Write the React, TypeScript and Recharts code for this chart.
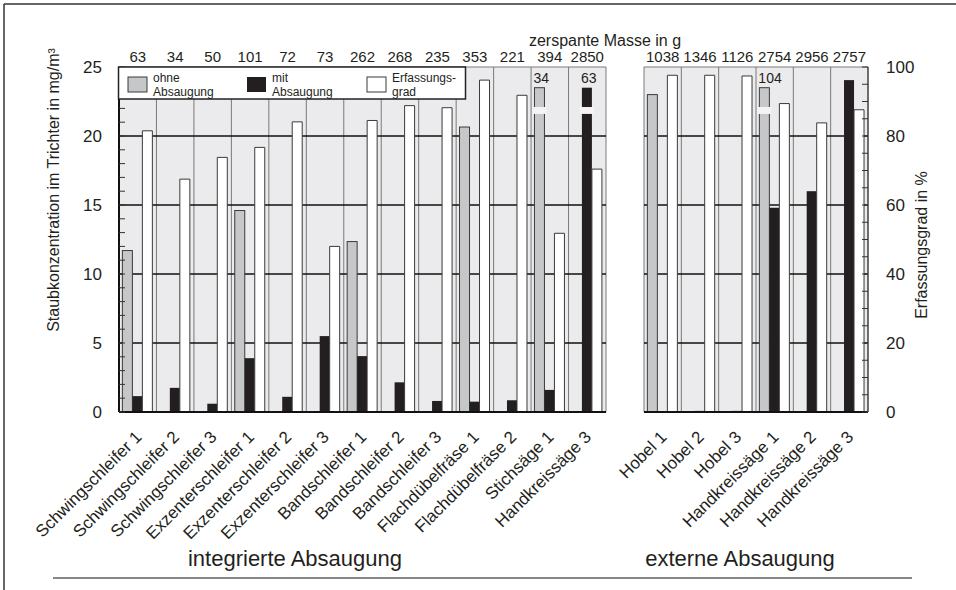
import React from 'react';
import { BarChart, Bar, XAxis, YAxis, CartesianGrid } from 'recharts';

const FONT = '"Liberation Sans", Arial, Helvetica, sans-serif';

// ---------- data ----------
const leftCategories = [
  'Schwingschleifer 1', 'Schwingschleifer 2', 'Schwingschleifer 3',
  'Exzenterschleifer 1', 'Exzenterschleifer 2', 'Exzenterschleifer 3',
  'Bandschleifer 1', 'Bandschleifer 2', 'Bandschleifer 3',
  'Flachdübelfräse 1', 'Flachdübelfräse 2', 'Stichsäge 1', 'Handkreissäge 3',
];
const leftMasse = [63, 34, 50, 101, 72, 73, 262, 268, 235, 353, 221, 394, 2850];
const leftOhne = [11.7, 0, 0, 14.6, 0, 0, 12.35, 0, 0, 20.65, 0, 34, 0];
const leftMit = [1.15, 1.75, 0.6, 3.9, 1.1, 5.5, 4.05, 2.15, 0.8, 0.75, 0.85, 1.6, 63];
const leftErf = [81.5, 67.5, 73.8, 76.7, 84.1, 48, 84.5, 88.8, 88.2, 96.2, 91.8, 51.8, 70.4];

const rightCategories = ['Hobel 1', 'Hobel 2', 'Hobel 3', 'Handkreissäge 1', 'Handkreissäge 2', 'Handkreissäge 3'];
const rightMasse = [1038, 1346, 1126, 2754, 2956, 2757];
const rightOhne = [23, 0, 0, 104, 0, 0];
const rightMit = [0, 0.08, 0.08, 14.8, 16, 24.05];
const rightErf = [97.6, 97.6, 97.4, 89.4, 83.8, 87.6];

const concTicks = [0, 1, 2, 3, 4, 5, 6, 7, 8, 9, 10, 11, 12, 13, 14, 15, 16, 17, 18, 19, 20, 21, 22, 23, 24, 25];
const pctTicks = [0, 5, 10, 15, 20, 25, 30, 35, 40, 45, 50, 55, 60, 65, 70, 75, 80, 85, 90, 95, 100];
const gridValues = [5, 10, 15, 20];

const Y_MAX = 25;
const CAP = 23.5; // displayed height of off-scale bars
const BREAK_HI = 22.1;
const BREAK_LO = 21.6;

const buildRows = (cats: string[], masse: number[], ohne: number[], mit: number[], erf: number[]) =>
  cats.map((name, i) => ({
    name,
    masse: masse[i],
    ohne: ohne[i],
    mit: mit[i],
    erf: erf[i],
    ohneDisp: ohne[i] > Y_MAX ? CAP : ohne[i],
    mitDisp: mit[i] > Y_MAX ? CAP : mit[i],
  }));

const leftRows = buildRows(leftCategories, leftMasse, leftOhne, leftMit, leftErf);
const rightRows = buildRows(rightCategories, rightMasse, rightOhne, rightMit, rightErf);

// ---------- colors ----------
const PLOT_BG = '#ebebed';
const GRAY = '#c6c7c9';
const BLACK = '#231f20';
const TXT = '#231f20';

// ---------- custom pieces ----------
const makeBreakBar = (key: 'ohne' | 'mit', fill: string, stroke: string) => (props: any) => {
  const { x, y, width, height, payload } = props;
  if (!height || height <= 0.2) {
    if (height > 0) return <rect x={x} y={y} width={width} height={height} fill={fill} />;
    return null;
  }
  const actual = payload[key];
  const broken = actual > Y_MAX;
  const ppu = height / (broken ? CAP : actual);
  const gTop = y + (CAP - BREAK_HI) * ppu;
  const gBot = y + (CAP - BREAK_LO) * ppu;
  return (
    <g>
      <rect x={x} y={y} width={width} height={height} fill={fill} stroke={stroke} strokeWidth={stroke === 'none' ? 0 : 1} />
      {broken && (
        <>
          <rect x={x - 2} y={gTop} width={width + 4} height={gBot - gTop} fill="#f4f4f4" />
          <text x={x - 1} y={y - 5} fontSize={14} fontFamily={FONT} fill={TXT} textAnchor="start">
            {actual}
          </text>
        </>
      )}
    </g>
  );
};

const OhneBar = makeBreakBar('ohne', GRAY, '#3a3a3a');
const MitBar = makeBreakBar('mit', BLACK, 'none');

const BottomTick = (props: any) => {
  const { x, y, payload } = props;
  const ax = x + 5;
  const ay = y + 26;
  return (
    <text x={ax} y={ay} transform={`rotate(-45 ${ax} ${ay})`} textAnchor="end" fontSize={17} fontFamily={FONT} fill={TXT}>
      {payload.value}
    </text>
  );
};

const TopTick = (props: any) => {
  const { x, y, payload } = props;
  return (
    <text x={x} y={y - 5} textAnchor="middle" fontSize={15} fontFamily={FONT} fill={TXT}>
      {payload.value}
    </text>
  );
};

const ConcTick = (props: any) => {
  const { x, y, payload } = props;
  return (
    <g>
      <line x1={x} x2={x + 6} y1={y} y2={y} stroke="#333" strokeWidth={1} />
      {payload.value % 5 === 0 && (
        <text x={x - 17} y={y + 6} textAnchor="end" fontSize={17} fontFamily={FONT} fill={TXT}>
          {payload.value}
        </text>
      )}
    </g>
  );
};

const PctTick = (props: any) => {
  const { x, y, payload } = props;
  return (
    <g>
      <line x1={x - 6} x2={x} y1={y} y2={y} stroke="#333" strokeWidth={1} />
      {payload.value % 20 === 0 && (
        <text x={x + 18} y={y + 6} textAnchor="start" fontSize={17} fontFamily={FONT} fill={TXT}>
          {payload.value}
        </text>
      )}
    </g>
  );
};

const vGen = (n: number) => ({ offset }: any) => {
  const pts: number[] = [];
  for (let i = 0; i <= n; i++) pts.push(offset.left + (offset.width * i) / n);
  return pts;
};

const hGen = (values: number[]) => ({ yAxis, offset }: any) =>
  values.map((v) =>
    yAxis && typeof yAxis.scale === 'function'
      ? yAxis.scale(v)
      : offset.top + offset.height * (1 - v / Y_MAX)
  );

const Panel = ({ rows, margin, showLeft, showRight }: any) => (
  <BarChart
    width={956}
    height={590}
    data={rows}
    margin={margin}
    barCategoryGap="9%"
    barGap={0}
  >
    <CartesianGrid
      fill={PLOT_BG}
      stroke="#7a7a7a"
      strokeWidth={1}
      verticalCoordinatesGenerator={vGen(rows.length)}
      horizontalCoordinatesGenerator={hGen([25])}
    />
    <CartesianGrid
      vertical={false}
      stroke="#111"
      strokeWidth={1.6}
      horizontalCoordinatesGenerator={hGen(gridValues)}
    />
    <XAxis
      dataKey="name"
      height={178}
      interval={0}
      tickLine={false}
      tickSize={0}
      tickMargin={0}
      axisLine={{ stroke: '#111', strokeWidth: 2 }}
      tick={<BottomTick />}
    />
    <XAxis
      xAxisId="top"
      orientation="top"
      dataKey="masse"
      height={30}
      interval={0}
      tickLine={false}
      axisLine={false}
      tickSize={0}
      tickMargin={0}
      tick={<TopTick />}
    />
    <YAxis
      domain={[0, Y_MAX]}
      ticks={concTicks}
      interval={0}
      allowDataOverflow
      hide={!showLeft}
      width={119}
      tickLine={false}
      tickSize={0}
      tickMargin={0}
      axisLine={{ stroke: '#111', strokeWidth: 2 }}
      tick={<ConcTick />}
    />
    <YAxis
      yAxisId="pct"
      orientation="right"
      domain={[0, 100]}
      ticks={pctTicks}
      interval={0}
      hide={!showRight}
      width={88}
      tickLine={false}
      tickSize={0}
      tickMargin={0}
      axisLine={{ stroke: '#555', strokeWidth: 1.5 }}
      tick={<PctTick />}
    />
    <Bar dataKey="ohneDisp" fill={GRAY} shape={OhneBar} isAnimationActive={false} />
    <Bar dataKey="mitDisp" fill={BLACK} shape={MitBar} isAnimationActive={false} />
    <Bar dataKey="erf" yAxisId="pct" fill="#ffffff" stroke="#3a3a3a" strokeWidth={1} isAnimationActive={false} />
  </BarChart>
);

const Overlay = () => (
  <svg width={956} height={590} style={{ position: 'absolute', left: 0, top: 0, pointerEvents: 'none' }}>
    {/* frame */}
    <line x1={4} y1={4} x2={956} y2={4} stroke="#333" strokeWidth={1.5} />
    <line x1={4} y1={4} x2={4} y2={590} stroke="#333" strokeWidth={1.5} />
    <line x1={53} y1={578} x2={912} y2={578} stroke="#111" strokeWidth={1.2} />

    <text x={605} y={46} textAnchor="middle" fontSize={16} fontFamily={FONT} fill={TXT}>zerspante Masse in g</text>

    {/* legend */}
    <rect x={118.5} y={67} width={347} height={32} fill="#fff" stroke="#222" strokeWidth={1.5} />
    <rect x={128} y={77} width={19} height={15} fill={GRAY} stroke="#3a3a3a" strokeWidth={1} />
    <text x={153} y={82} fontSize={12} fontFamily={FONT} fill={TXT}>ohne</text>
    <text x={153} y={96} fontSize={12} fontFamily={FONT} fill={TXT}>Absaugung</text>
    <rect x={247} y={77} width={19} height={15} fill={BLACK} />
    <text x={272} y={82} fontSize={12} fontFamily={FONT} fill={TXT}>mit</text>
    <text x={272} y={96} fontSize={12} fontFamily={FONT} fill={TXT}>Absaugung</text>
    <rect x={367} y={77} width={19} height={15} fill="#fff" stroke="#3a3a3a" strokeWidth={1} />
    <text x={392} y={82} fontSize={12} fontFamily={FONT} fill={TXT}>Erfassungs-</text>
    <text x={392} y={96} fontSize={12} fontFamily={FONT} fill={TXT}>grad</text>

    {/* axis titles */}
    <text x={55} y={190} transform="rotate(-90 55 190)" textAnchor="middle" dominantBaseline="middle" fontSize={16} fontFamily={FONT} fill={TXT}>
      Staubkonzentration im Trichter in mg/m³
    </text>
    <text x={923} y={245} transform="rotate(-90 923 245)" textAnchor="middle" dominantBaseline="middle" fontSize={16} fontFamily={FONT} fill={TXT}>
      Erfassungsgrad in %
    </text>

    {/* group labels */}
    <text x={295} y={566} textAnchor="middle" fontSize={22} fontFamily={FONT} fill={TXT}>integrierte Absaugung</text>
    <text x={740} y={566} textAnchor="middle" fontSize={22} fontFamily={FONT} fill={TXT}>externe Absaugung</text>
  </svg>
);

export default function App() {
  return (
    <div style={{ position: 'absolute', left: 0, top: 0, width: 956, height: 590, background: '#fff', fontFamily: FONT }}>
      <div style={{ position: 'absolute', left: 0, top: 0 }}>
        <Panel rows={leftRows} margin={{ top: 37, right: 350, bottom: 0, left: 0 }} showLeft showRight={false} />
      </div>
      <div style={{ position: 'absolute', left: 0, top: 0 }}>
        <Panel rows={rightRows} margin={{ top: 37, right: 0, bottom: 0, left: 644 }} showLeft={false} showRight />
      </div>
      <Overlay />
    </div>
  );
}
